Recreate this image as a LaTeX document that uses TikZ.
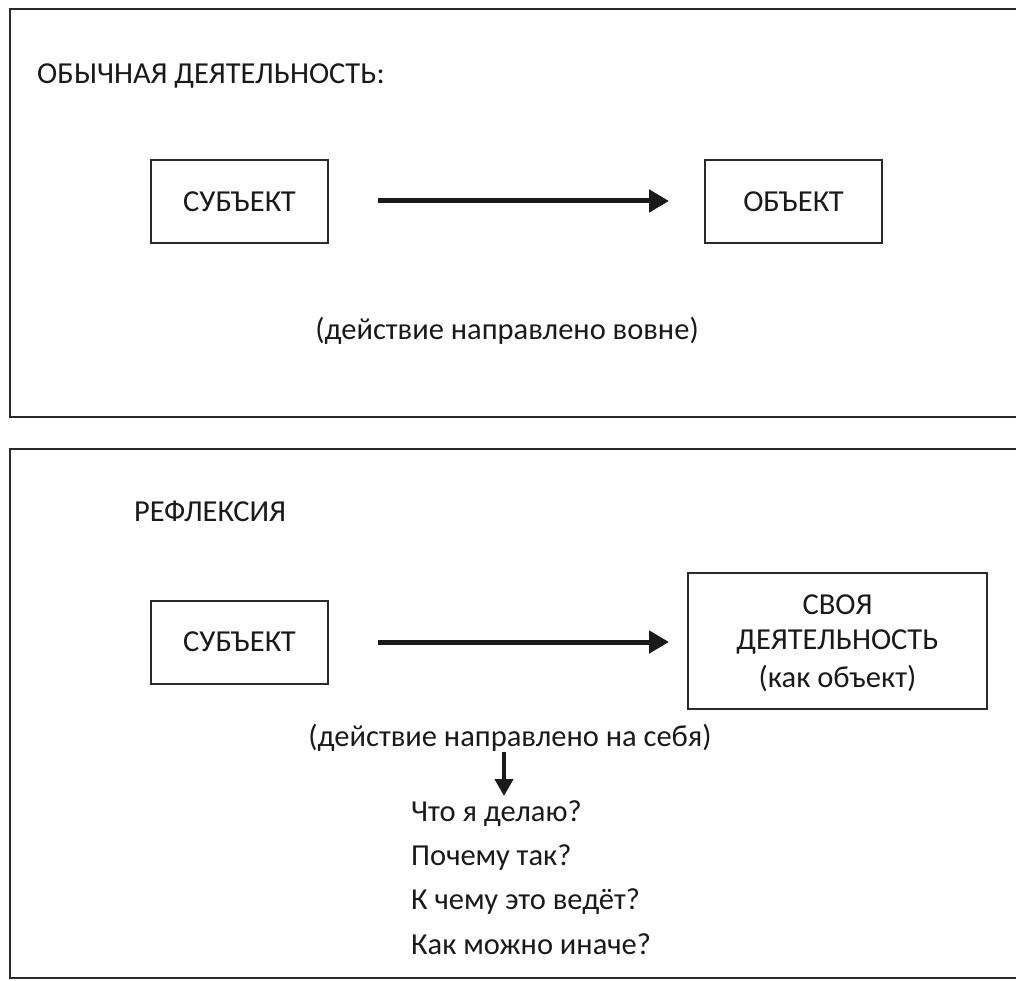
\documentclass[tikz,border=0pt]{standalone}
\usepackage{fontspec}
\setmainfont{Carlito}
\usetikzlibrary{arrows.meta}
\definecolor{ink}{HTML}{1A1A1A}
\definecolor{frame}{HTML}{2A2A2A}
\tikzset{
  panel/.style={draw=frame, line width=2pt},
  box/.style={draw=frame, line width=2pt, minimum width=177pt, minimum height=83pt, inner sep=0pt, text=ink, font=\fontsize{30.5}{36}\selectfont},
  label/.style={text=ink, inner sep=0pt, font=\fontsize{30.5}{36}\selectfont},
  bigarrow/.style={line width=5pt, ink, -{Triangle[length=20pt,width=22pt]}},
  downarrow/.style={line width=4pt, ink, -{Triangle[length=17pt,width=18pt]}}
}
\begin{document}
\begin{tikzpicture}[x=1pt,y=-1pt]
\clip (0,0) rectangle (1016,981);
\fill[white] (0,0) rectangle (1016,981);

% upper panel: ordinary activity
\draw[panel] (1040,9) -- (10,9) -- (10,417) -- (1040,417);
\node[label, anchor=west] (t1) at (37,76) {ОБЫЧНАЯ ДЕЯТЕЛЬНОСТЬ:};
\node[box] (s1) at (239.5,202) {СУБЪЕКТ};
\node[box] (o1) at (793.5,202) {ОБЪЕКТ};
\coordinate (a1s) at (378,201);
\coordinate (a1e) at (669,201);
\draw[bigarrow] (a1s) -- (a1e);
\node[label] (c1) at (507,331) {(действие направлено вовне)};

% lower panel: reflection
\draw[panel] (1040,449) -- (10,449) -- (10,978) -- (1040,978);
\node[label, anchor=west] (t2) at (134,511) {РЕФЛЕКСИЯ};
\node[box] (s2) at (239.5,642) {СУБЪЕКТ};
\node[box, minimum width=299pt, minimum height=136pt] (o2) at (837.5,641) {};
\node[label] (o2a) at (837.5,605) {СВОЯ};
\node[label] (o2b) at (837.5,642) {ДЕЯТЕЛЬНОСТЬ};
\node[label] (o2c) at (837.5,678) {(как объект)};
\coordinate (a2s) at (378,642);
\coordinate (a2e) at (669,642);
\draw[bigarrow] (a2s) -- (a2e);
\node[label] (c2) at (510,738) {(действие направлено на себя)};
\coordinate (d0) at (504,752);
\coordinate (d1) at (504,796);
\draw[downarrow] (d0) -- (d1);
\node[label, anchor=west] (q1) at (411,814) {Что я делаю?};
\node[label, anchor=west] (q2) at (411,858) {Почему так?};
\node[label, anchor=west] (q3) at (411,902) {К чему это ведёт?};
\node[label, anchor=west] (q4) at (411,944) {Как можно иначе?};
\end{tikzpicture}
\end{document}
